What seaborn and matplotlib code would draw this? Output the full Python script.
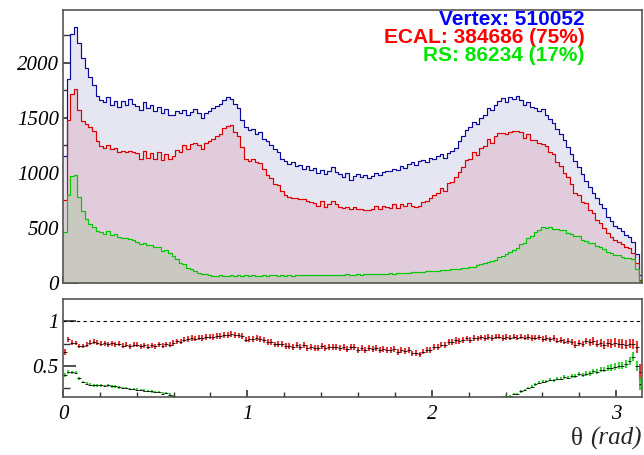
import numpy as np
import pandas as pd
import matplotlib
matplotlib.use("Agg")
import matplotlib.pyplot as plt
import seaborn as sns

# ---- data: counts per bin, 160 bins over theta = 0..pi ----
n_bins = 160
theta_edges = np.linspace(0, np.pi, n_bins + 1)
theta_centers = 0.5 * (theta_edges[:-1] + theta_edges[1:])

vertex_counts = [
    1150, 1850, 2260, 2330, 2180, 2040, 1950, 1870, 1800, 1700,
    1665, 1640, 1690, 1620, 1655, 1600, 1650, 1615, 1670, 1625,
    1610, 1575, 1640, 1590, 1620, 1560, 1600, 1545, 1580, 1530,
    1525, 1560, 1545, 1575, 1530, 1555, 1580, 1540, 1500, 1545,
    1560, 1590, 1605, 1630, 1660, 1690, 1675, 1630, 1590, 1480,
    1420, 1390, 1400, 1350, 1370, 1310, 1290, 1250, 1215, 1190,
    1130, 1105, 1080, 1095, 1060, 1070, 1040, 1060, 1030, 1045,
    1000, 1030, 990, 1020, 1050, 1010, 990, 960, 1000, 940,
    975, 990, 960, 985, 950, 975, 1000, 985, 1010, 1020,
    1015, 1040, 1030, 1060, 1045, 1080, 1095, 1070, 1110, 1120,
    1100, 1140, 1125, 1150, 1170, 1140, 1180, 1200, 1230, 1290,
    1340, 1390, 1420, 1460, 1440, 1500, 1530, 1590, 1570, 1620,
    1650, 1680, 1640, 1690, 1670, 1695, 1660, 1620, 1645, 1600,
    1590, 1560, 1580, 1530, 1490, 1450, 1400, 1350, 1300, 1240,
    1170, 1110, 1050, 990, 930, 870, 820, 770, 720, 680,
    600, 560, 520, 500, 470, 440, 420, 370, 260, 70,
]

ecal_counts = [
    750, 1480, 1720, 1760, 1570, 1470, 1440, 1420, 1385, 1290,
    1242, 1231, 1257, 1221, 1231, 1194, 1195, 1187, 1203, 1194,
    1182, 1130, 1195, 1136, 1179, 1124, 1188, 1121, 1174, 1129,
    1152, 1211, 1192, 1251, 1221, 1259, 1270, 1257, 1218, 1274,
    1292, 1310, 1335, 1356, 1404, 1429, 1438, 1376, 1339, 1234,
    1127, 1111, 1122, 1101, 1091, 1034, 985, 957, 898, 889,
    837, 795, 785, 776, 774, 764, 763, 746, 734, 729,
    702, 741, 692, 721, 741, 719, 690, 682, 688, 669,
    692, 675, 675, 666, 664, 669, 703, 671, 699, 694,
    682, 716, 677, 716, 696, 729, 700, 692, 698, 739,
    747, 775, 795, 816, 864, 839, 908, 916, 964, 1009,
    1052, 1121, 1122, 1186, 1161, 1229, 1245, 1312, 1273, 1339,
    1367, 1365, 1350, 1376, 1379, 1384, 1373, 1321, 1354, 1299,
    1297, 1276, 1267, 1246, 1186, 1174, 1095, 1062, 1003, 964,
    902, 820, 795, 736, 724, 664, 638, 576, 544, 499,
    455, 420, 395, 375, 350, 325, 315, 275, 185, 30,
]

rs_counts = [
    460, 795, 970, 980, 785, 650, 585, 540, 505, 475,
    465, 445, 475, 435, 445, 415, 410, 405, 400, 390,
    374, 355, 364, 346, 343, 326, 323, 291, 304, 272,
    245, 220, 185, 175, 140, 125, 110, 95, 85, 78,
    72, 68, 66, 70, 64, 68, 72, 66, 70, 68,
    70, 66, 72, 68, 65, 70, 67, 72, 69, 66,
    70, 68, 72, 67, 70, 73, 69, 72, 70, 74,
    72, 75, 70, 74, 72, 76, 73, 75, 78, 74,
    76, 78, 75, 80, 78, 82, 80, 84, 82, 86,
    88, 86, 92, 90, 95, 93, 98, 96, 102, 100,
    105, 108, 112, 110, 118, 115, 122, 125, 130, 128,
    135, 140, 148, 145, 160, 172, 180, 190, 200, 210,
    233, 246, 268, 281, 304, 316, 353, 366, 413, 426,
    463, 480, 509, 500, 510, 490, 495, 480, 484, 456,
    449, 430, 425, 390, 384, 361, 359, 335, 329, 311,
    282, 269, 255, 250, 235, 229, 231, 222, 130, 21,
]

legend_lines = ["Vertex: 510052", "ECAL: 384686 (75%)", "RS: 86234 (17%)"]
legend_colors = ["#0000ff", "#ff0000", "#00e600"]

# ---- style ----
sns.set_style("ticks")
plt.rcParams["font.family"] = ["Liberation Serif", "DejaVu Serif"]
plt.rcParams["font.style"] = "italic"

fig = plt.figure(figsize=(6.44, 4.55), dpi=100)
ax1 = fig.add_axes([0.0978, 0.378, 0.8995, 0.600])
ax2 = fig.add_axes([0.0978, 0.1275, 0.8995, 0.2155])

vertex = np.array(vertex_counts, float)
ecal = np.array(ecal_counts, float)
rs = np.array(rs_counts, float)

df = pd.DataFrame({"theta": theta_centers, "vertex": vertex, "ecal": ecal, "rs": rs})

# ---- top panel: filled step histograms ----
fills = [("vertex", "#e6e6f2"), ("ecal", "#e0ccda"), ("rs", "#c9c9c1")]
for col, fc in fills:
    sns.histplot(data=df, x="theta", weights=col, bins=n_bins, binrange=(0, np.pi),
                 element="step", fill=True, color=fc, alpha=1, linewidth=0, ax=ax1)
lines = [("vertex", "#0a0a9c"), ("ecal", "#dd0000"), ("rs", "#00c800")]
for col, lc in lines:
    sns.histplot(data=df, x="theta", weights=col, bins=n_bins, binrange=(0, np.pi),
                 element="step", fill=False, color=lc, linewidth=0.85, ax=ax1)

ax1.set_xlim(0, np.pi)
ax1.set_ylim(0, 2480)
ax1.set_xlabel("")
ax1.set_ylabel("")
ax1.set_yticks([0, 500, 1000, 1500, 2000])
ax1.set_yticklabels(["0", "500", "1000", "1500", "2000"])
ax1.set_yticks(np.arange(250, 2480, 500), minor=True)
ax1.set_xticks([0, 1, 2, 3])
ax1.set_xticks(np.arange(0.2, 3.15, 0.2), minor=True)
ax1.tick_params(axis="x", labelbottom=False)

# ---- bottom panel: ratios ----
half_w = 0.5 * (theta_edges[1] - theta_edges[0])
ratio_sets = [(ecal, "#e01515"), (rs, "#15cc15")]
for num, col in ratio_sets:
    r = num / vertex
    err = r * np.sqrt(1.0 / num + 1.0 / vertex)
    ax2.errorbar(theta_centers, r, yerr=err, fmt="none", ecolor=col,
                 elinewidth=1.5, alpha=0.85)
    ax2.errorbar(theta_centers, r, xerr=half_w, fmt="none", ecolor="black",
                 elinewidth=0.6)
ax2.axhline(1.0, color="black", lw=0.8, ls=(0, (3, 3)))

ax2.set_xlim(0, np.pi)
ax2.set_ylim(0.15, 1.25)
ax2.set_yticks([0.5, 1.0])
ax2.set_yticklabels(["0.5", "1"])
ax2.set_yticks([0.25, 0.75], minor=True)
ax2.set_xticks([0, 1, 2, 3])
ax2.set_xticklabels(["0", "1", "2", "3"])
ax2.set_xticks(np.arange(0.2, 3.15, 0.2), minor=True)

for ax in (ax1, ax2):
    for sp in ax.spines.values():
        sp.set_color("#555555")
        sp.set_linewidth(1.2)
    ax.tick_params(axis="both", which="both", direction="in", colors="#333333",
                   labelcolor="black", labelsize=15)
    ax.tick_params(axis="x", which="major", length=5, width=1.2, pad=6)
    ax.tick_params(axis="x", which="minor", length=3.5, width=1.0)
    ax.tick_params(axis="y", which="major", width=1.2, pad=3)

ax1.tick_params(axis="y", which="major", length=11)
ax1.tick_params(axis="y", which="minor", length=6.5, width=1.0)
ax2.tick_params(axis="y", which="major", length=9.5)
ax2.tick_params(axis="y", which="minor", length=5, width=1.0)

# ---- texts ----
for i, (txt, col) in enumerate(zip(legend_lines, legend_colors)):
    fig.text(0.908, 0.958 - i * 0.0395, txt, ha="right", va="center", color=col,
             fontsize=15, fontweight="bold", family="Liberation Sans", style="normal")

fig.text(0.997, 0.036, "(rad)", ha="right", va="center", fontsize=18, style="italic")
fig.text(0.905, 0.036, "θ", ha="right", va="center", fontsize=18, style="normal")

fig.savefig("out.png", dpi=100)
